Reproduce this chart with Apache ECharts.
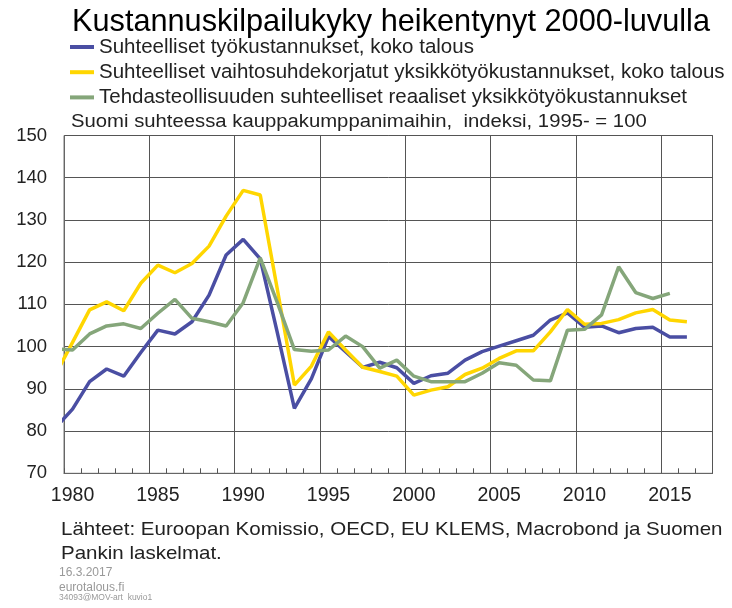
<!DOCTYPE html>
<html>
<head>
<meta charset="utf-8">
<script src="https://cdn.jsdelivr.net/npm/echarts@6/dist/echarts.min.js"></script>
<style>
  html, body { margin: 0; padding: 0; background: #fff; }
  #chart { width: 732px; height: 608px; }
</style>
</head>
<body>
<div id="chart"></div>
<script>
// vuodet, 1979 mukana koska viivat alkavat kuvan reunasta
const years = [1979, 1980, 1981, 1982, 1983, 1984, 1985, 1986, 1987, 1988, 1989,
  1990, 1991, 1992, 1993, 1994, 1995, 1996, 1997, 1998, 1999,
  2000, 2001, 2002, 2003, 2004, 2005, 2006, 2007, 2008, 2009,
  2010, 2011, 2012, 2013, 2014, 2015, 2016];

// x-akselin luokat (1980-2017)
const categories = [];
for (let y = 1980; y <= 2017; y++) categories.push(String(y));

const tyokustannukset = [80.8, 85.2, 91.7, 94.7, 93.0, 98.6, 103.9, 103.0, 105.9, 112.2, 121.7,
  125.4, 120.8, 103.3, 85.4, 92.4, 102.4, 98.8, 95.1, 96.3, 95.0,
  91.3, 93.1, 93.7, 96.8, 98.8, 100.1, 101.4, 102.7, 106.3, 108.0,
  104.6, 104.9, 103.3, 104.3, 104.6, 102.3, 102.3];

const vaihtosuhde = [93.4, 101.0, 108.7, 110.6, 108.5, 115.0, 119.3, 117.5, 119.7, 123.8, 130.9,
  137.0, 135.9, 113.6, 90.9, 95.4, 103.5, 99.2, 95.1, 94.1, 93.0,
  88.5, 89.7, 90.5, 93.4, 94.9, 97.2, 99.0, 99.0, 103.5, 108.8,
  105.3, 105.5, 106.4, 108.0, 108.8, 106.3, 105.9];

const tehdas = [99.5, 99.2, 103.0, 104.9, 105.4, 104.3, 107.9, 111.2, 106.7, 105.9, 104.9,
  110.4, 121.0, 110.4, 99.3, 98.9, 99.2, 102.5, 100.0, 94.9, 96.8,
  93.0, 91.7, 91.7, 91.7, 93.7, 96.2, 95.6, 92.1, 91.9, 103.9,
  104.1, 107.5, 118.9, 112.8, 111.4, 112.6, null];

const names = [
  'Suhteelliset työkustannukset, koko talous',
  'Suhteelliset vaihtosuhdekorjatut yksikkötyökustannukset, koko talous',
  'Tehdasteollisuuden suhteelliset reaaliset yksikkötyökustannukset'
];

const font = 'Liberation Sans, Arial, sans-serif';

function pairs(arr) {
  return years.map((y, i) => [y, arr[i]]);
}

const chart = echarts.init(document.getElementById('chart'));

chart.setOption({
  animation: false,
  backgroundColor: '#fff',
  textStyle: { fontFamily: font },
  title: {
    text: 'Kustannuskilpailukyky heikentynyt 2000-luvulla',
    left: 67,
    top: 2,
    textStyle: { fontSize: 30.7, fontWeight: 'normal', color: '#000', fontFamily: font }
  },
  legend: {
    data: names,
    orient: 'vertical',
    left: 70,
    top: 36.5,
    padding: 0,
    itemWidth: 24,
    itemHeight: 4,
    itemGap: 4.2,
    icon: 'rect',
    textStyle: { fontSize: 20.5, color: '#222', lineHeight: 20, fontFamily: font }
  },
  grid: {
    left: 64,
    right: 19.5,
    top: 135.5,
    bottom: 134.7,
    show: true,
    borderColor: '#777',
    borderWidth: 1
  },
  xAxis: [
    {
      type: 'category',
      data: categories,
      boundaryGap: true,
      axisLine: { show: true, lineStyle: { color: '#666' } },
      axisTick: { show: true, inside: true, length: 5, interval: 0, lineStyle: { color: '#555' } },
      axisLabel: { interval: 4, fontSize: 19.5, color: '#222', margin: 12, fontFamily: font },
      splitLine: { show: true, interval: 4, lineStyle: { color: '#555', width: 1 } }
    },
    {
      type: 'value',
      min: 1979.5,
      max: 2017.5,
      show: false
    }
  ],
  yAxis: {
    type: 'value',
    min: 70,
    max: 150,
    interval: 10,
    axisLine: { show: true, lineStyle: { color: '#666' } },
    axisTick: { show: false },
    axisLabel: { fontSize: 18.5, color: '#222', margin: 17, fontFamily: font },
    splitLine: { show: true, lineStyle: { color: '#555', width: 1 } }
  },
  series: [
    {
      name: names[0], type: 'line', xAxisIndex: 1, data: pairs(tyokustannukset),
      showSymbol: false, lineStyle: { width: 3.5, color: '#4a4ea3' }, itemStyle: { color: '#4a4ea3' }
    },
    {
      name: names[1], type: 'line', xAxisIndex: 1, data: pairs(vaihtosuhde),
      showSymbol: false, lineStyle: { width: 3.5, color: '#ffd600' }, itemStyle: { color: '#ffd600' }
    },
    {
      name: names[2], type: 'line', xAxisIndex: 1, data: pairs(tehdas),
      showSymbol: false, lineStyle: { width: 3.5, color: '#85a67a' }, itemStyle: { color: '#85a67a' }
    }
  ],
  graphic: [
    {
      type: 'text', left: 71, top: 113, scaleX: 1.127,
      style: { text: 'Suomi suhteessa kauppakumppanimaihin,  indeksi, 1995- = 100', fontSize: 18, fill: '#222', fontFamily: font }
    },
    {
      type: 'text', left: 61, top: 520, scaleX: 1.08,
      style: { text: 'Lähteet: Euroopan Komissio, OECD, EU KLEMS, Macrobond ja Suomen', fontSize: 19, fill: '#222', fontFamily: font }
    },
    {
      type: 'text', left: 61, top: 544, scaleX: 1.08,
      style: { text: 'Pankin laskelmat.', fontSize: 19, fill: '#222', fontFamily: font }
    },
    {
      type: 'text', left: 59, top: 567,
      style: { text: '16.3.2017', fontSize: 12, fill: '#999', fontFamily: font }
    },
    {
      type: 'text', left: 59, top: 582,
      style: { text: 'eurotalous.fi', fontSize: 12, fill: '#999', fontFamily: font }
    },
    {
      type: 'text', left: 59, top: 593,
      style: { text: '34093@MOV-art  kuvio1', fontSize: 8.5, fill: '#999', fontFamily: font }
    }
  ]
});
</script>
</body>
</html>
